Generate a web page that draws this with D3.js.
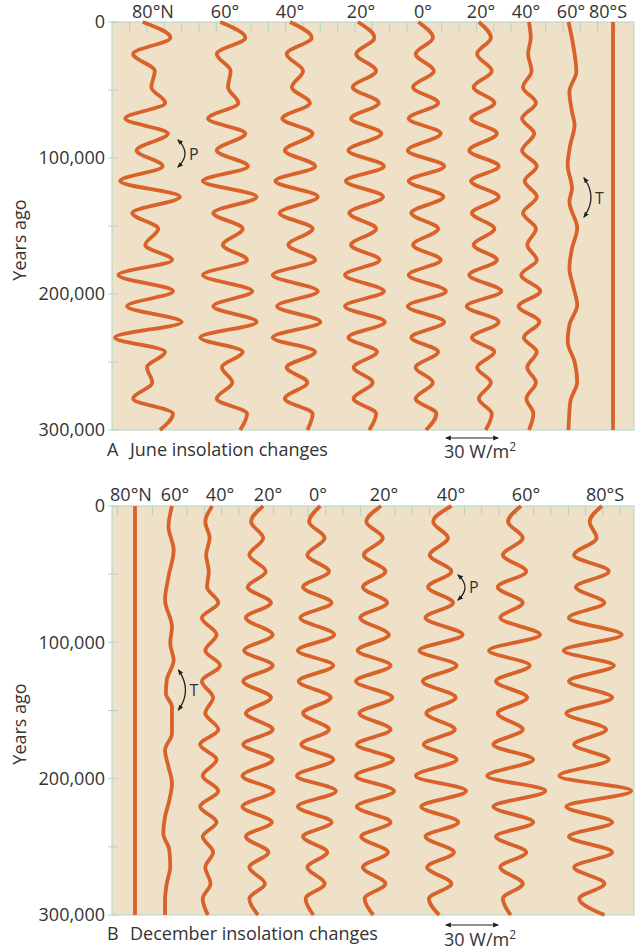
<!DOCTYPE html>
<html><head><meta charset="utf-8">
<script src="https://cdn.jsdelivr.net/npm/d3@7"></script>
<style>
html,body{margin:0;padding:0;background:#fff;}
svg{display:block;}
text{font-family:"Open Sans",sans-serif;fill:#333;}
</style></head><body>
<svg id="c" width="636" height="951"></svg>
<script>
// ---------------- DATA ----------------
const latLabels = ["80°N","60°","40°","20°","0°","20°","40°","60°","80°S"];
const yearTicks = [0, 100000, 200000, 300000];
const minorYearTicks = [0, 50000, 100000, 150000, 200000, 250000, 300000];
// years ago of the precession turning points (shared by both panels)
const turnYears = [0, 11500, 23500, 36000, 48000, 59500, 71000, 82000, 94500, 106000, 117000, 128500, 140500, 152000, 164000, 175000, 186000, 198000, 209000, 220500, 232000, 242500, 254000, 265000, 277000, 288000, 300000];
const flatYears = [0, 300000];
const flatValues = [0, 0];

// June insolation anomalies (W/m^2)
const june80N = [-2.5, 13.5, -8, 4.5, 2.5, 10.5, -12.5, 12, -6, 9, -15.5, 19, -8.5, 6.5, -1, 14.5, -16.5, 15, -11.5, 20, -18.5, 10.5, 0, 3, -8, 15, 7.5];
const june60N = [-4.5, 10, -6.5, 1.5, 0, 6, -11.5, 10, -6.5, 11.5, -14.5, 16.5, -8.5, 8.5, -3, 11, -14.5, 14, -8.5, 16.5, -16, 8.5, -3.5, 2.5, -6.5, 11, 7];
const june40N = [-4, 8.5, -6, 3.5, -3, 7.5, -8.5, 9, -7, 10.5, -12.5, 12, -10, 9, -5, 10.5, -14, 12, -11.5, 13.5, -14, 10.5, -6, 6, -7, 9, 6];
const june20N = [-3.5, 6, -4.5, 7, -6.5, 8.5, -7.5, 10, -9, 11.5, -10.5, 11, -8.5, 7, -7.5, 9, -11, 11.5, -11, 12, -9, 7.5, -6, 5, -6, 7, 3];
const june0 = [-4.5, 4, -6, 4.5, -7.5, 7, -10, 8.5, -10.5, 10.5, -10, 10, -8.5, 7, -7.5, 8.5, -10, 11.5, -10.5, 10.5, -8.5, 7, -6, 4, -6, 6, 0];
const june20S = [-3, 4, -4, 4.5, -6, 6, -7.5, 7.5, -8.5, 8.5, -7.5, 8.5, -7, 6, -6, 7.5, -8.5, 10, -10, 8.5, -7, 6, -4, 4, -3, 4.5, 1];
const june40S = [0, 1, -0.5, 1.5, -3.5, 4, -4, 3, -4, 4.5, -2.5, 4.5, -3.5, 4, -1, 4.5, -4.5, 6.5, -6, 6, -3, 4.5, -1, 4, -1.5, 2.5, 0];
const june60SYears = [0, 19400, 36500, 51200, 66000, 75800, 90400, 105100, 122300, 132100, 151700, 166400, 181100, 195800, 208100, 222800, 235100, 249800, 264500, 279200, 300000];
const june60S = [-2, 1, 2.5, -1.5, 0, 1.5, -1, -2.5, 0, -1.5, 3, 0, -1.5, 1, 3, -1.5, -2.5, 1.5, 3, -1, -2];

// December insolation anomalies (W/m^2)
const dec60NYears = [0, 15200, 32300, 51900, 69000, 88500, 100800, 113000, 127700, 137500, 147300, 166800, 179100, 191300, 203500, 215700, 228000, 240200, 252400, 264600, 276800, 289000, 300000];
const dec60N = [2, 0, 3, 0, -2, 2, 1, 3, -1, -1.5, 2, 2, -2, 0, 2, 0.5, -2, -3, 0.5, 1, -1, -2, -2];
const dec40N = [1, -3, -0.5, -2.5, -1, -2, 4.5, -5, 3.5, -3, 5.5, -5, 1.5, -3, 4.5, -6, 3.5, -4.5, 4.5, -6, 3.5, -4.5, 1.5, -3, 0, -4.5, -1.5];
const dec20N = [3, -4, 3, -5, 4.5, -6, 7.5, -7, 8.5, -8, 8.5, -8.5, 7.5, -7, 8.5, -8.5, 8.5, -9, 9, -9, 8, -7, 6, -5, 4, -5, 0];
const dec0 = [2.5, -4, 5, -5, 7.5, -7.5, 9, -9, 10.5, -10.5, 10, -10, 8.5, -7.5, 7.5, -8.5, 10, -11, 11.5, -10.5, 9, -7.5, 6.5, -5, 5, -6, -1.5];
const dec20S = [3.5, -5, 4.5, -6.5, 6, -7, 7, -8.5, 8, -10, 9, -11, 10, -9, 9, -10.5, 10.5, -11, 11, -10.5, 9, -8, 7.5, -7, 6, -6, -1];
const dec40S = [6, -4.5, 4, -6.5, 6, -7.5, 7, -9, 12.5, -12.5, 9, -10.5, 8.5, -8.5, 8, -10, 9, -14.5, 14.5, -11.5, 10, -9, 7.5, -8, 6, -7, -1];
const dec60S = [3.5, -4, 4.5, -7, 6.5, -10, 4.5, -8.5, 14.5, -15, 8.5, -11, 7, -10, 4.5, -12.5, 10.5, -16, 17.5, -12.5, 10.5, -11, 6.5, -8.5, 4.5, -7, -2.5];
const dec80S = [4.5, -2.5, 1.5, -11.5, 8.5, -10.5, 6, -14.5, 16, -17.5, 11.5, -14.5, 10.5, -16, 7, -11.5, 8.5, -20, 21.5, -16, 10.5, -14.5, 10.5, -11.5, 6, -8.5, 6];

// annotations: label, years spanned, column index
const annotLabelsA = ["P", "T"];
const annotSpanA = [[86800, 106600], [114700, 143400]];
const annotColA = [0, 7];
const annotLabelsB = ["T", "P"];
const annotSpanB = [[120300, 149600], [50600, 68900]];
const annotColB = [1, 6];
const scaleBarValue = 30;

// ---------------- LAYOUT ----------------
const plotLeft = 112, plotRight = 634;
const colCentersA = [147, 228, 297, 364, 426, 484, 529, 572, 613];
const labelXA = [153, 225, 290, 361, 423, 481, 526, 571, 608];
const colCentersB = [135, 168.5, 210.5, 258, 316, 375, 441, 515, 594];
const labelXB = [131, 175, 220, 268, 318, 384, 451, 526, 605];
const annotDxA = [31, 12];
const annotDxB = [10, 17];

const LINE = "#d8622a", BG = "#efe0c8", BORDER = "#add6ca", TXT = "#333";

const wScale = d3.scaleLinear().domain([0, 30]).range([0, 52]);

function mk(years, values) { return years.map((t, i) => ({t: t, v: values[i]})); }

const juneSeries = [
  mk(turnYears, june80N), mk(turnYears, june60N), mk(turnYears, june40N), mk(turnYears, june20N),
  mk(turnYears, june0), mk(turnYears, june20S), mk(turnYears, june40S), mk(june60SYears, june60S),
  mk(flatYears, flatValues)
];
const decSeries = [
  mk(flatYears, flatValues), mk(dec60NYears, dec60N), mk(turnYears, dec40N), mk(turnYears, dec20N),
  mk(turnYears, dec0), mk(turnYears, dec20S), mk(turnYears, dec40S), mk(turnYears, dec60S),
  mk(turnYears, dec80S)
];

const svg = d3.select("#c");
const defs = svg.append("defs");
defs.append("marker").attr("id", "ah").attr("viewBox", "0 0 10 10")
  .attr("refX", 8).attr("refY", 5).attr("markerWidth", 6).attr("markerHeight", 6)
  .attr("markerUnits", "userSpaceOnUse")
  .attr("orient", "auto-start-reverse")
  .append("path").attr("d", "M0,1 L10,5 L0,9 z").attr("fill", "#222");

const panels = [
  {top: 22, bottom: 430, cols: colCentersA, labelX: labelXA, labelY: 18, series: juneSeries,
   letter: "A", title: "June insolation changes", titleY: 456, barY: 438, barTextY: 458, yearsY: 240,
   aLabels: annotLabelsA, aSpan: annotSpanA, aCol: annotColA, aDx: annotDxA},
  {top: 506, bottom: 915, cols: colCentersB, labelX: labelXB, labelY: 501, series: decSeries,
   letter: "B", title: "December insolation changes", titleY: 940, barY: 925, barTextY: 946, yearsY: 724,
   aLabels: annotLabelsB, aSpan: annotSpanB, aCol: annotColB, aDx: annotDxB}
];

panels.forEach(p => {
  const g = svg.append("g");
  const y = d3.scaleLinear().domain([0, 300000]).range([p.top, p.bottom]);
  const col = d3.scaleOrdinal().domain(d3.range(latLabels.length)).range(p.cols);

  g.append("rect").attr("x", plotLeft).attr("y", p.top)
    .attr("width", plotRight - plotLeft).attr("height", p.bottom - p.top)
    .attr("fill", BG).attr("stroke", BORDER).attr("stroke-width", 1);

  // top ticks every 10 W/m^2
  const c0 = p.cols[0];
  const topScale = d3.scaleLinear().domain([0, 30]).range([c0, c0 + wScale(30)]);
  const tv = d3.range(Math.ceil(topScale.invert(plotLeft + 4) / 10) * 10, topScale.invert(plotRight - 2), 10);
  g.selectAll(".tt").data(tv).join("line")
    .attr("x1", d => topScale(d)).attr("x2", d => topScale(d))
    .attr("y1", p.top).attr("y2", p.top + 10)
    .attr("stroke", BORDER).attr("stroke-width", 1);

  // left minor ticks
  g.selectAll(".lt").data(minorYearTicks).join("line")
    .attr("x1", plotLeft - 4).attr("x2", plotLeft + 6)
    .attr("y1", d => y(d)).attr("y2", d => y(d))
    .attr("stroke", BORDER).attr("stroke-width", 1);

  // y axis labels
  const ax = g.append("g").attr("transform", `translate(${plotLeft},0)`)
    .call(d3.axisLeft(y).tickValues(yearTicks).tickFormat(d3.format(",")).tickSize(0).tickPadding(7));
  ax.select(".domain").remove();
  ax.selectAll("text").attr("font-size", 18).attr("font-family", '"Open Sans",sans-serif').attr("fill", TXT);

  // Years ago
  g.append("text").attr("transform", `translate(26,${p.yearsY}) rotate(-90)`)
    .attr("text-anchor", "middle").attr("font-size", 18).text("Years ago");

  // latitude labels
  g.selectAll(".lat").data(latLabels).join("text")
    .attr("x", (d, i) => p.labelX[i]).attr("y", p.labelY)
    .attr("text-anchor", "middle").attr("font-size", 18).text(d => d);

  // curves
  p.series.forEach((s, i) => {
    const line = d3.line().y(d => y(d.t)).x(d => col(i) + wScale(d.v)).curve(d3.curveMonotoneY);
    g.append("path").attr("d", line(s)).attr("fill", "none")
      .attr("stroke", LINE).attr("stroke-width", 3.8);
  });

  // annotations
  p.aLabels.forEach((lab, k) => {
    const x0 = col(p.aCol[k]) + p.aDx[k];
    const y0 = y(p.aSpan[k][0]), y1 = y(p.aSpan[k][1]);
    const b = 14;
    g.append("path").attr("d", `M${x0},${y0} Q${x0 + b},${(y0 + y1) / 2} ${x0},${y1}`)
      .attr("fill", "none").attr("stroke", "#222").attr("stroke-width", 1.3)
      .attr("marker-start", "url(#ah)").attr("marker-end", "url(#ah)");
    g.append("text").attr("x", x0 + 11).attr("y", (y0 + y1) / 2 + 6)
      .attr("font-size", 16).text(lab);
  });

  // title
  g.append("text").attr("x", 107).attr("y", p.titleY).attr("font-size", 18).text(p.letter);
  g.append("text").attr("x", 130).attr("y", p.titleY).attr("font-size", 18).text(p.title);

  // scale bar
  const bx = 446;
  g.append("line").attr("x1", bx).attr("x2", bx + wScale(scaleBarValue))
    .attr("y1", p.barY).attr("y2", p.barY).attr("stroke", "#222").attr("stroke-width", 1.2)
    .attr("marker-start", "url(#ah)").attr("marker-end", "url(#ah)");
  const st = g.append("text").attr("x", bx - 2).attr("y", p.barTextY).attr("font-size", 18);
  st.append("tspan").text(scaleBarValue + " W/m");
  st.append("tspan").attr("font-size", 12).attr("dy", -7).text("2");
});
</script>
</body></html>
